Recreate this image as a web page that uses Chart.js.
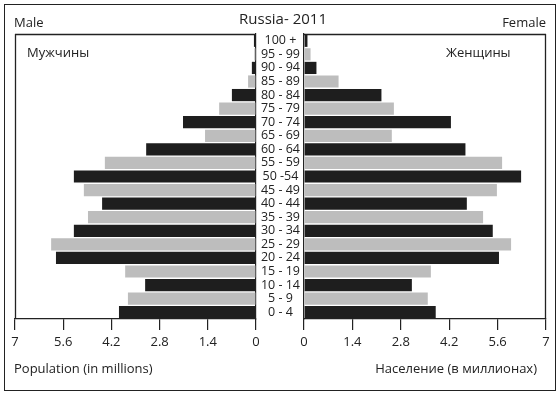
<!DOCTYPE html>
<html>
<head>
<meta charset="utf-8">
<script src="https://cdn.jsdelivr.net/npm/chart.js@4"></script>
<style>
  body { margin: 0; width: 560px; height: 396px; background: #fff; position: relative; overflow: hidden; font-family: "Open Sans", sans-serif; color: #222; }
  canvas { position: absolute; left: 0; top: 0; }
  .frame { position: absolute; left: 4px; top: 4px; width: 550px; height: 385px; border: 1.5px solid #222; }
  .txt { position: absolute; line-height: 16px; font-size: 13px; white-space: nowrap; }
</style>
</head>
<body>
<div class="frame"></div>
<canvas id="maleChart" width="560" height="396"></canvas>
<canvas id="femaleChart" width="560" height="396"></canvas>
<div class="txt" style="left:3px;width:560px;text-align:center;top:10px;font-size:15px;">Russia- 2011</div>
<div class="txt" style="left:14px;top:14px;">Male</div>
<div class="txt" style="right:14px;top:14px;">Female</div>
<div class="txt" style="left:27px;top:44px;">Мужчины</div>
<div class="txt" style="left:446px;top:44px;">Женщины</div>
<div class="txt" style="left:14px;top:360px;">Population (in millions)</div>
<div class="txt" style="right:23px;top:360px;">Население (в миллионах)</div>
<script>
// age groups, top to bottom
const ageGroups = ['100 +', '95 - 99', '90 - 94', '85 - 89', '80 - 84', '75 - 79', '70 - 74',
  '65 - 69', '60 - 64', '55 - 59', '50 -54', '45 - 49', '40 - 44', '35 - 39', '30 - 34',
  '25 - 29', '20 - 24', '15 - 19', '10 - 14', '5 - 9', '0 - 4'];
// population in millions
const maleValues = [0.06, 0.05, 0.12, 0.23, 0.70, 1.07, 2.12, 1.48, 3.19, 4.39, 5.29,
  5.00, 4.47, 4.88, 5.29, 5.95, 5.81, 3.80, 3.22, 3.72, 3.98];
const femaleValues = [0.10, 0.19, 0.36, 1.00, 2.24, 2.60, 4.25, 2.54, 4.67, 5.73, 6.28,
  5.58, 4.71, 5.18, 5.46, 5.99, 5.64, 3.67, 3.12, 3.58, 3.81];
const xTicks = [0, 1.4, 2.8, 4.2, 5.6, 7];

const dark = '#1e1e1e';
const light = '#bdbdbd';
const barColors = ageGroups.map((a, i) => i % 2 === 0 ? dark : light);

Chart.defaults.font.family = '"Open Sans", sans-serif';
Chart.defaults.color = '#222';

// draws the outer sides of the plot box
const boxLines = {
  id: 'boxLines',
  afterDraw(chart, args, opts) {
    const {ctx, chartArea: a} = chart;
    ctx.save();
    ctx.strokeStyle = '#222';
    ctx.lineWidth = 1.3;
    ctx.beginPath();
    ctx.moveTo(a.left, a.top + 0.5);
    ctx.lineTo(a.right, a.top + 0.5);
    const x = opts.side === 'left' ? a.left + 0.5 : a.right - 0.5;
    ctx.moveTo(x, a.top);
    ctx.lineTo(x, a.bottom);
    ctx.stroke();
    ctx.restore();
  }
};

function xScale(reverse) {
  return {
    type: 'linear',
    min: 0,
    max: 7,
    reverse: reverse,
    afterBuildTicks: s => { s.ticks = xTicks.map(v => ({value: v})); },
    afterFit: s => { s.height = 31; },
    grid: { drawOnChartArea: false, drawTicks: true, tickLength: 11, color: '#222', lineWidth: 1.2 },
    border: { display: true, color: '#222', width: 1.3 },
    ticks: { padding: 4, font: { size: 13 }, maxRotation: 0, autoSkip: false,
      callback: v => String(+v.toFixed(1)) }
  };
}

function makeChart(id, values, left) {
  return new Chart(document.getElementById(id), {
    type: 'bar',
    data: {
      labels: ageGroups,
      datasets: [{
        data: values,
        backgroundColor: barColors,
        borderWidth: 0,
        barPercentage: 0.9,
        categoryPercentage: 1
      }]
    },
    options: {
      indexAxis: 'y',
      responsive: false,
      animation: false,
      events: [],
      layout: { padding: left
        ? { left: 15, right: 304, top: 34, bottom: 46 }
        : { left: 257, right: 14, top: 34, bottom: 46 } },
      plugins: { legend: { display: false }, tooltip: { enabled: false }, boxLines: { side: left ? 'left' : 'right' } },
      scales: {
        x: xScale(left),
        y: {
          position: left ? 'right' : 'left',
          afterFit: s => { s.width = left ? 0 : 47; },
          grid: { display: false, drawTicks: false, tickLength: 0 },
          border: { display: true, color: '#222', width: 1.2 },
          ticks: left ? { display: false } : { crossAlign: 'center', padding: 4, font: { size: 12.5 }, autoSkip: false }
        }
      }
    },
    plugins: [boxLines]
  });
}

makeChart('maleChart', maleValues, true);
makeChart('femaleChart', femaleValues, false);
</script>
</body>
</html>
